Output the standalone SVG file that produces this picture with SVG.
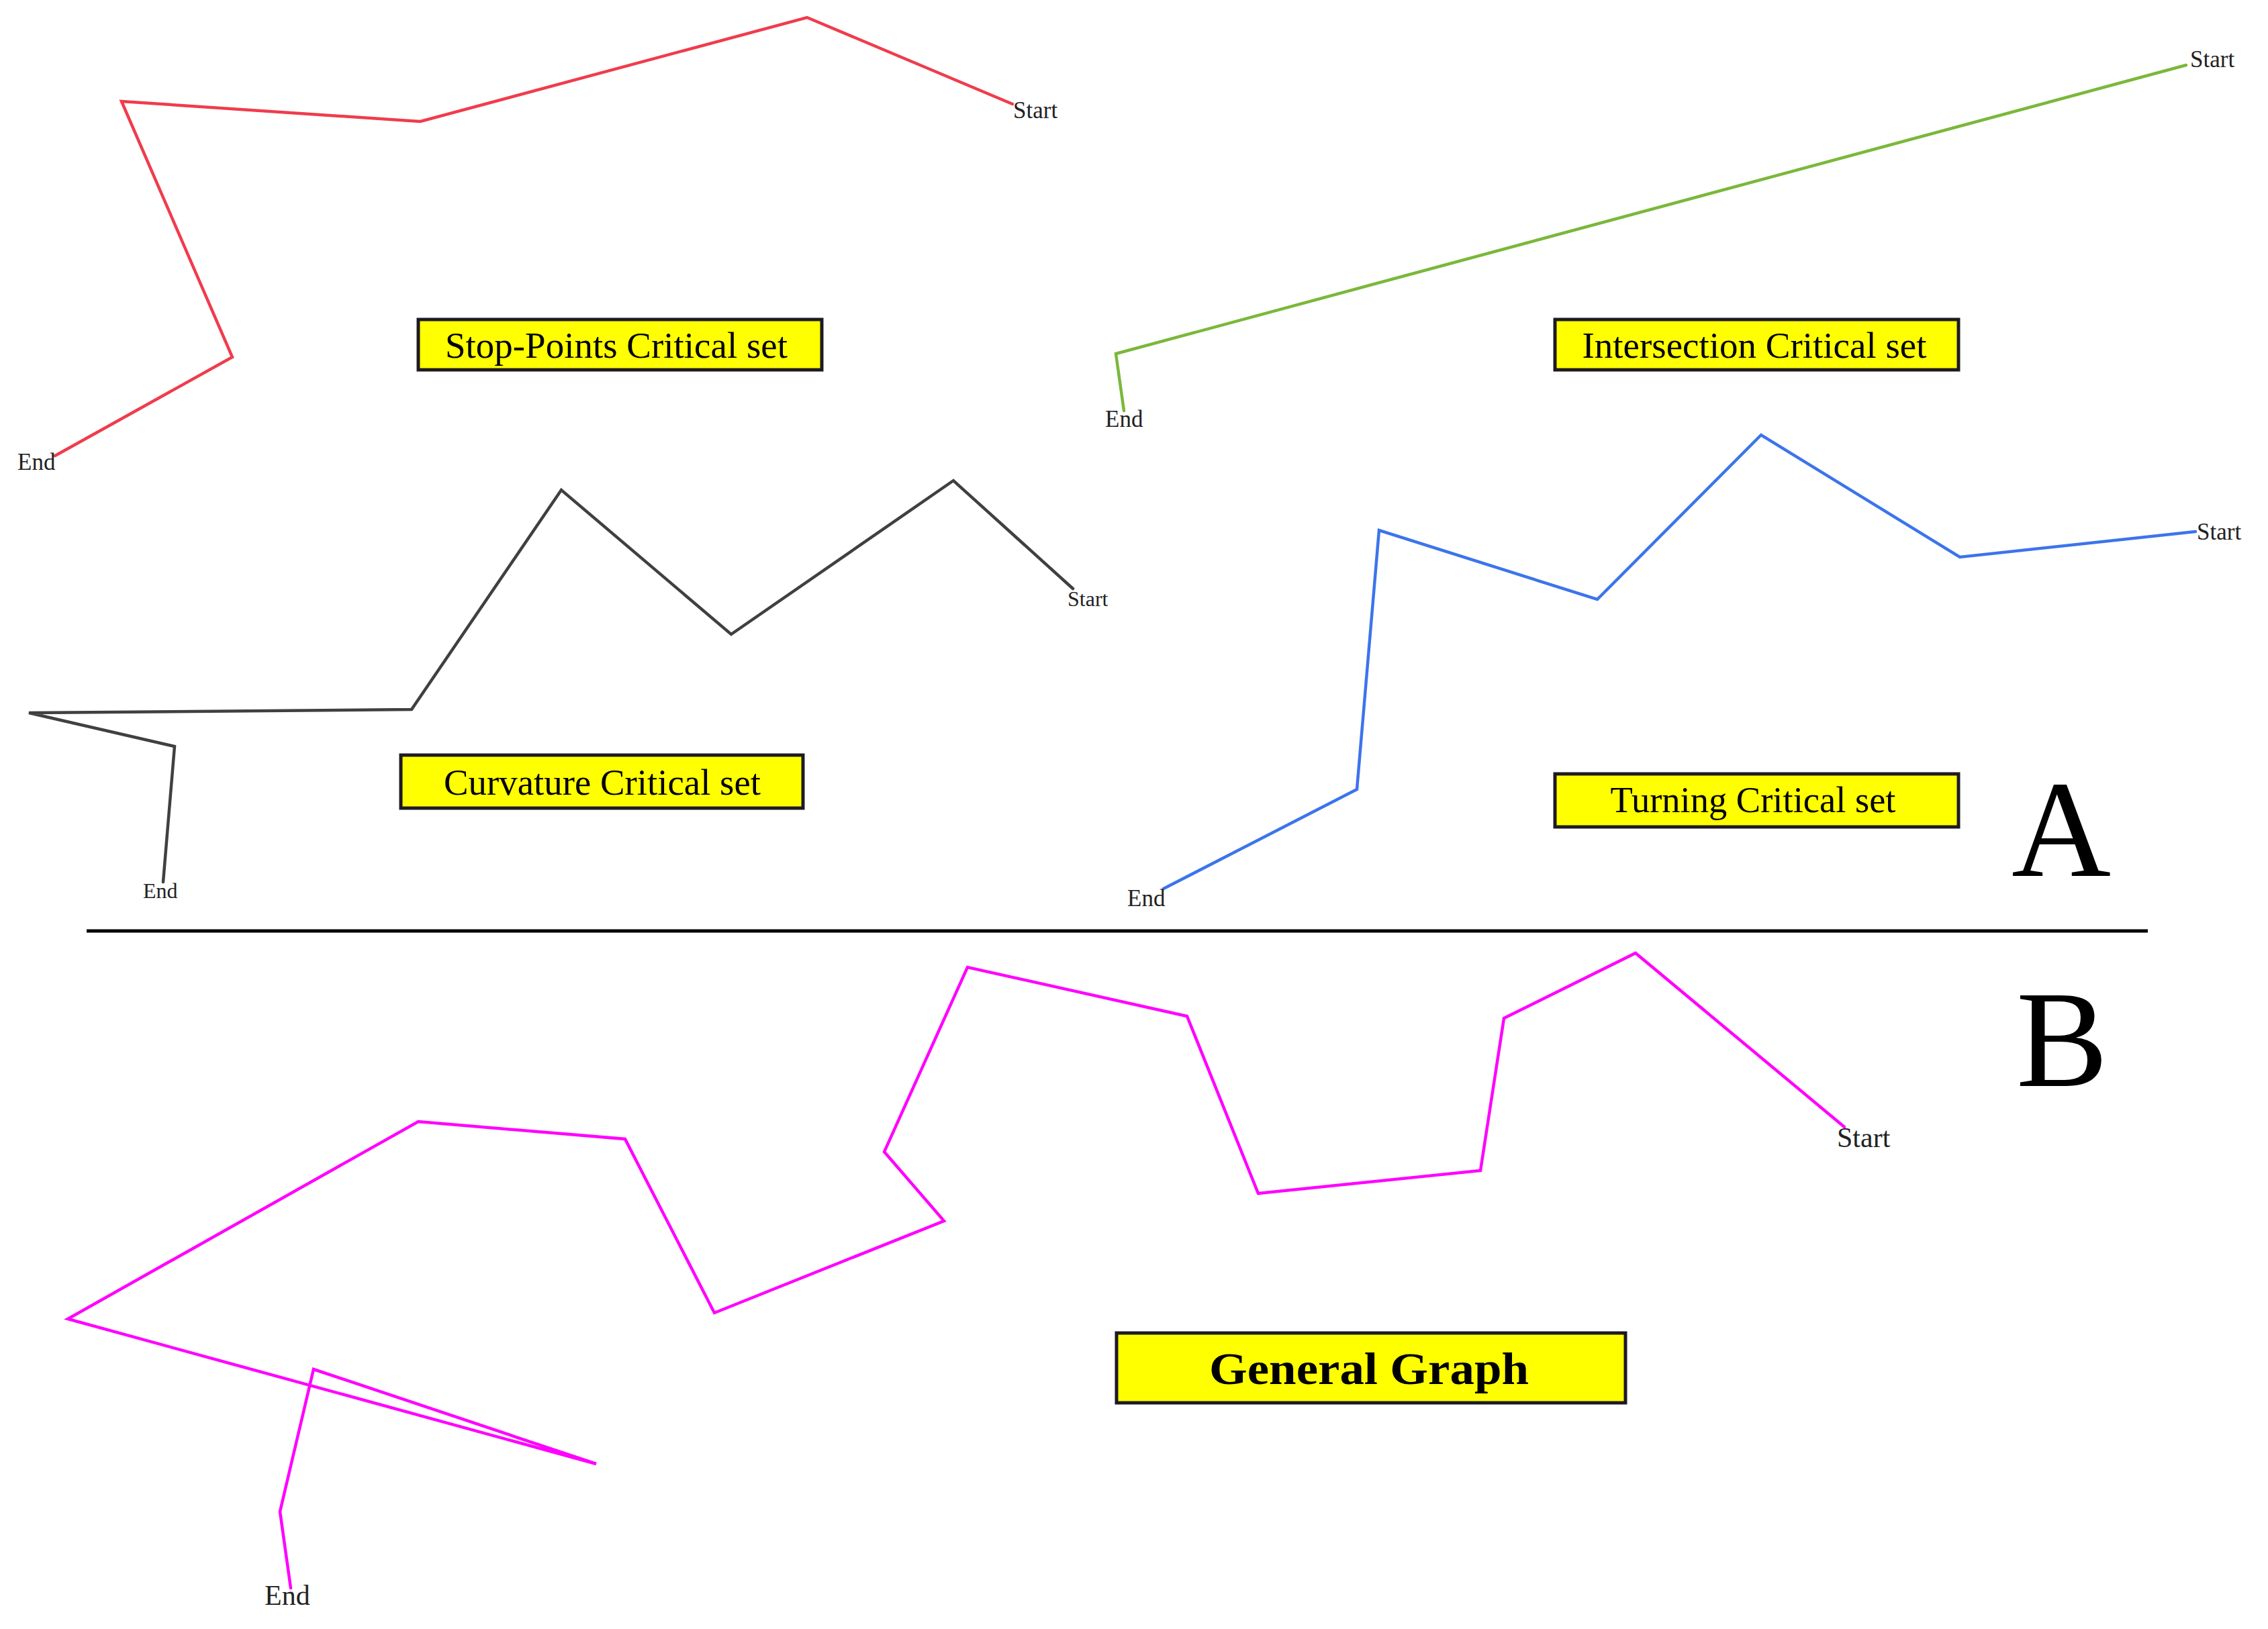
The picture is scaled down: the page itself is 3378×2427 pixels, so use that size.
<svg xmlns="http://www.w3.org/2000/svg" width="3378" height="2427" viewBox="0 0 3378 2427">
<style>
.path{fill:none;stroke-width:4.5;stroke-linejoin:miter;stroke-linecap:round}
.lbl{font-family:"Liberation Serif","Times New Roman",serif;font-size:35px;fill:#222}
.box{fill:#ffff00;stroke:#1e1a22;stroke-width:5}
.title{font-family:"Liberation Serif","Times New Roman",serif;font-size:54px;fill:#000;text-anchor:middle}
.big{font-family:"Liberation Serif","Times New Roman",serif;font-size:205px;fill:#000}
</style>
<rect width="3378" height="2427" fill="#ffffff"/>
<g id="connectors">
<polyline id="stop-path" class="path" stroke="#f03c4c" points="1508,155 1202,26 626,181 181,151 346,532 82,679"/>
<polyline id="intersection-path" class="path" stroke="#7ab83a" points="3256,97 1662,527 1674,612"/>
<polyline id="curvature-path" class="path" stroke="#404040" points="1598,877 1420,716 1089,945 836,730 613,1057 43,1062 260,1112 243,1314"/>
<polyline id="turning-path" class="path" stroke="#3c74ec" points="3270,792 2919,830 2623,648 2379,893 2054,790 2021,1176 1733,1324"/>
<polyline id="general-path" class="path" stroke="#ff00ff" points="2747,1679 2436,1420 2240,1517 2205,1744 1874,1778 1768,1514 1441,1441 1317,1716 1406,1819 1064,1956 931,1697 623,1671 101,1965 888,2181 467,2040 417,2252 433,2366"/>
<line id="divider" x1="129" y1="1387" x2="3199" y2="1387" stroke="#000" stroke-width="5"/>
</g>
<g id="stop-points">
<rect class="box" x="623" y="476" width="601" height="75"/>
<text class="title" x="918" y="533" textLength="510" lengthAdjust="spacingAndGlyphs">Stop-Points Critical set</text>
<text class="lbl" x="1509" y="176">Start</text>
<text class="lbl" x="26" y="700">End</text>
</g>
<g id="intersection">
<rect class="box" x="2316" y="476" width="601" height="75"/>
<text class="title" x="2613" y="533" textLength="513" lengthAdjust="spacingAndGlyphs">Intersection Critical set</text>
<text class="lbl" x="3262" y="100">Start</text>
<text class="lbl" x="1646" y="636">End</text>
</g>
<g id="curvature">
<rect class="box" x="597" y="1125" width="599" height="79"/>
<text class="title" x="897" y="1184" textLength="472" lengthAdjust="spacingAndGlyphs">Curvature Critical set</text>
<text class="lbl" x="1590" y="903" style="font-size:32px">Start</text>
<text class="lbl" x="213" y="1338" style="font-size:32px">End</text>
</g>
<g id="turning">
<rect class="box" x="2316" y="1153" width="601" height="79"/>
<text class="title" x="2611" y="1210" textLength="425" lengthAdjust="spacingAndGlyphs">Turning Critical set</text>
<text class="lbl" x="3272" y="804">Start</text>
<text class="lbl" x="1679" y="1350">End</text>
</g>
<g id="general">
<rect class="box" x="1663" y="1986" width="758" height="104"/>
<text class="title" x="2039" y="2062" style="font-weight:bold;font-size:68px" textLength="476" lengthAdjust="spacingAndGlyphs">General Graph</text>
<text class="lbl" x="2736" y="1709" style="font-size:42px">Start</text>
<text class="lbl" x="394" y="2391" style="font-size:42px">End</text>
</g>
<g id="panel-labels">
<text class="big" x="2996" y="1305">A</text>
<text class="big" x="3003" y="1618">B</text>
</g>
</svg>
